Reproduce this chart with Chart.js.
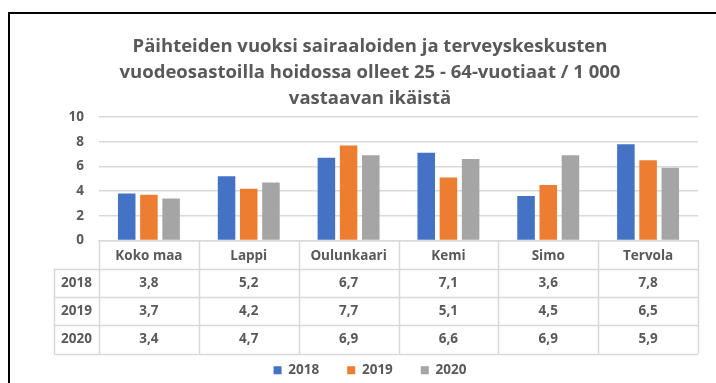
<!DOCTYPE html>
<html>
<head>
<meta charset="utf-8">
<script src="https://cdn.jsdelivr.net/npm/chart.js@4"></script>
<style>
  html, body { margin: 0; padding: 0; background: #ffffff; }
  #wrap { width: 716px; height: 383px; position: relative; }
</style>
</head>
<body>
<div id="wrap"><canvas id="chart" width="716" height="383"></canvas></div>
<script>
// Chart data
const categories = ['Koko maa', 'Lappi', 'Oulunkaari', 'Kemi', 'Simo', 'Tervola'];
const years = ['2018', '2019', '2020'];
const values2018 = [3.8, 5.2, 6.7, 7.1, 3.6, 7.8];
const values2019 = [3.7, 4.2, 7.7, 5.1, 4.5, 6.5];
const values2020 = [3.4, 4.7, 6.9, 6.6, 6.9, 5.9];
const yTicks = [0, 2, 4, 6, 8, 10];
const titleLines = [
    'Päihteiden vuoksi sairaaloiden ja terveyskeskusten',
    'vuodeosastoilla hoidossa olleet 25 - 64-vuotiaat / 1 000',
    'vastaavan ikäistä'
];

const seriesValues = [values2018, values2019, values2020];
const seriesColors = ['#4472C4', '#ED7D31', '#A5A5A5'];
const textColor = '#595959';
const lineColor = '#D9D9D9';
const fontFamily = "'Open Sans', sans-serif";
const labelSize = 13.5;

const fmt = v => v.toFixed(1).replace('.', ',');

// Frame around the whole chart + data table under the x axis
const tablePlugin = {
    id: 'dataTable',
    beforeDraw(chart) {
        const ctx = chart.ctx;
        ctx.save();
        ctx.strokeStyle = '#000000';
        ctx.lineWidth = 2;
        ctx.strokeRect(9, 13, 900, 600);
        ctx.restore();
    },
    afterDraw(chart) {
        const { ctx, chartArea } = chart;
        const x = chart.scales.x;
        const colW = (chartArea.right - chartArea.left) / categories.length;
        const headTop = chartArea.bottom;
        const rowH = 28.4;
        const headBottom = headTop + 28;
        const tableBottom = headBottom + rowH * years.length;
        const rowLeft = 54;

        ctx.save();
        ctx.strokeStyle = lineColor;
        ctx.lineWidth = 1.5;
        ctx.beginPath();
        // vertical lines
        for (let i = 0; i <= categories.length; i++) {
            const px = Math.round(chartArea.left + i * colW) + 0.5;
            ctx.moveTo(px, headTop);
            ctx.lineTo(px, tableBottom);
        }
        ctx.moveTo(rowLeft + 0.5, headBottom);
        ctx.lineTo(rowLeft + 0.5, tableBottom);
        // horizontal lines
        for (let r = 0; r <= years.length; r++) {
            const py = Math.round(headBottom + r * rowH) + 0.5;
            ctx.moveTo(rowLeft, py);
            ctx.lineTo(chartArea.right, py);
        }
        ctx.stroke();

        ctx.fillStyle = textColor;
        ctx.font = 'bold ' + labelSize + 'px ' + fontFamily;
        ctx.textAlign = 'center';
        ctx.textBaseline = 'middle';
        years.forEach((yr, r) => {
            const cy = headBottom + r * rowH + rowH / 2;
            ctx.fillText(yr, (rowLeft + chartArea.left) / 2, cy);
            seriesValues[r].forEach((v, i) => {
                ctx.fillText(fmt(v), x.getPixelForValue(i), cy);
            });
        });
        ctx.restore();
    }
};

const ctx = document.getElementById('chart');
new Chart(ctx, {
    type: 'bar',
    data: {
        labels: categories,
        datasets: years.map((yr, i) => ({
            label: yr,
            data: seriesValues[i],
            backgroundColor: seriesColors[i],
            borderWidth: 0,
            categoryPercentage: 0.667,
            barPercentage: 0.79
        }))
    },
    options: {
        responsive: false,
        animation: false,
        devicePixelRatio: 1,
        layout: { padding: { top: 0, left: 42, right: 18, bottom: -4 } },
        plugins: {
            title: {
                display: true,
                text: titleLines,
                color: textColor,
                font: { family: fontFamily, size: 18.5, weight: 'bold', lineHeight: 26 / 18.5 },
                padding: { top: 34, bottom: 5 }
            },
            legend: {
                position: 'bottom',
                labels: {
                    color: textColor,
                    boxWidth: 8,
                    boxHeight: 8,
                    padding: 28,
                    font: { family: fontFamily, size: labelSize, weight: 'bold' }
                }
            },
            tooltip: { enabled: false }
        },
        scales: {
            x: {
                grid: { display: false, drawTicks: false },
                border: { color: lineColor, width: 1.5 },
                ticks: {
                    color: textColor,
                    padding: 8,
                    maxRotation: 0,
                    font: { family: fontFamily, size: labelSize, weight: 'bold' }
                },
                // the data table sits under the labels; legend box overlaps its lower part
                afterFit(scale) { scale.height = 95; }
            },
            y: {
                min: 0,
                max: 10,
                grid: { color: lineColor, lineWidth: 1.5, drawTicks: false },
                border: { display: false },
                afterBuildTicks(scale) { scale.ticks = yTicks.map(v => ({ value: v })); },
                ticks: {
                    color: textColor,
                    padding: 15,
                    font: { family: fontFamily, size: labelSize, weight: 'bold' }
                },
                afterFit(scale) { scale.width = 57; }
            }
        }
    },
    plugins: [tablePlugin]
});
</script>
</body>
</html>
